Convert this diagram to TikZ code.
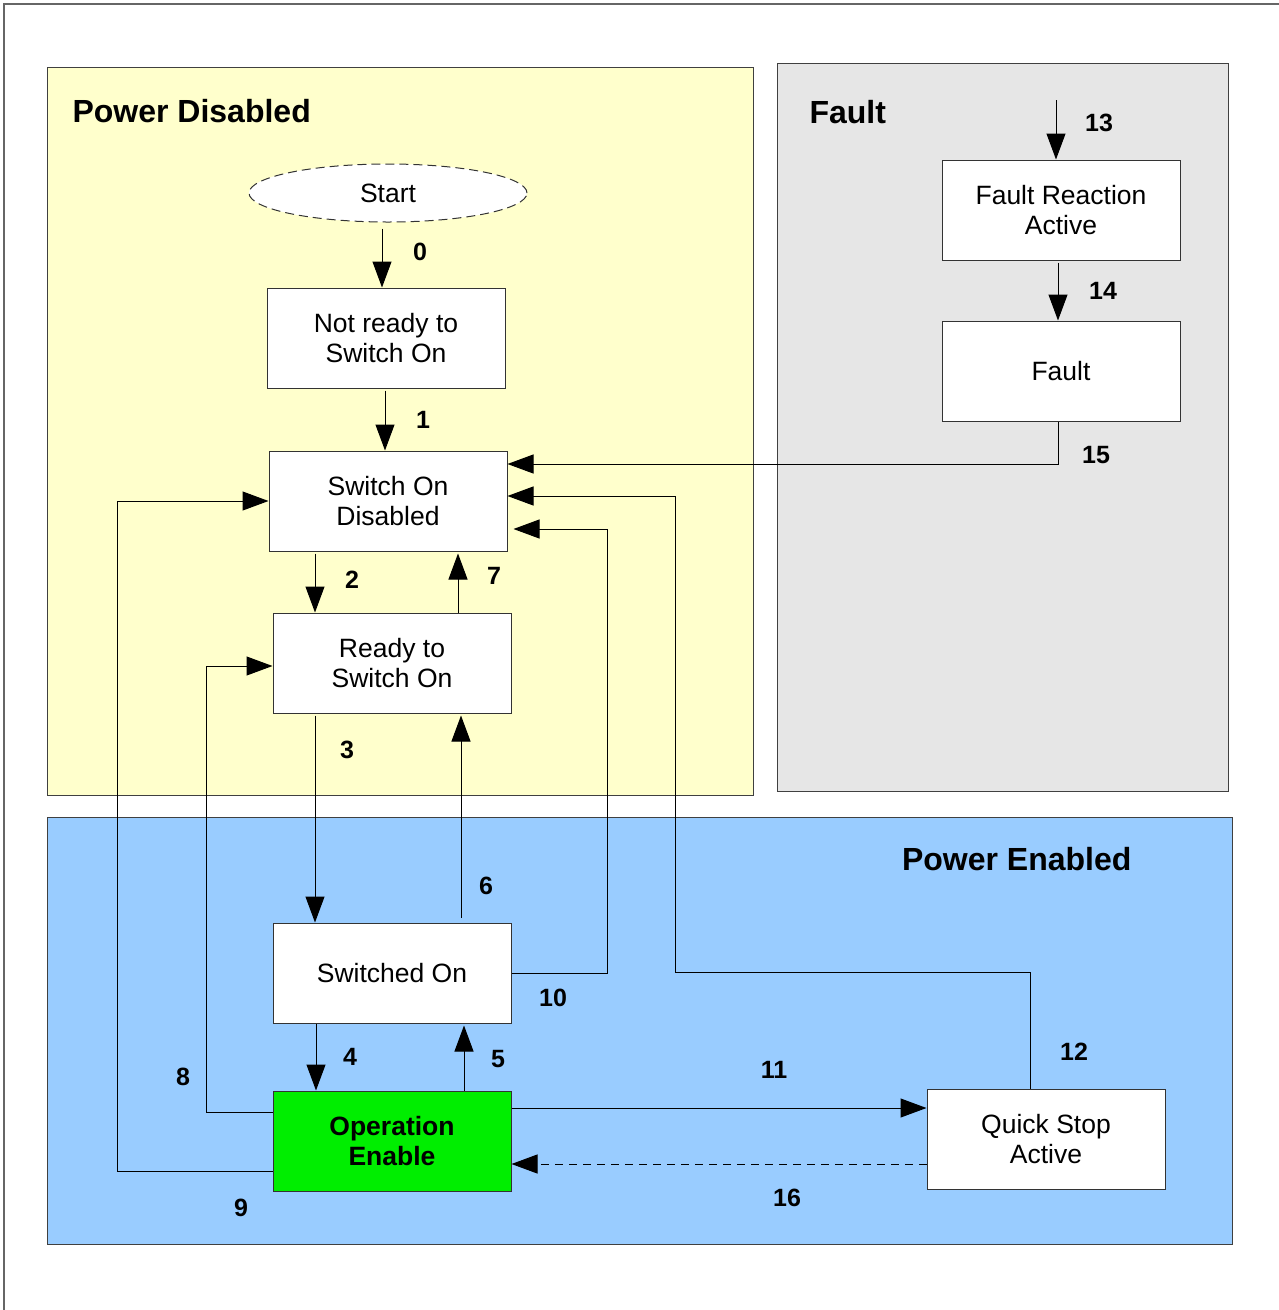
\documentclass[tikz,border=0pt]{standalone}
\usepackage{fontspec}
\setmainfont{Liberation Sans}
\usetikzlibrary{arrows.meta,shapes.geometric}
\definecolor{pdyellow}{HTML}{FFFFCC}
\definecolor{faultgray}{HTML}{E6E6E6}
\definecolor{peblue}{HTML}{99CCFF}
\definecolor{opgreen}{HTML}{00EE00}
\tikzset{
  x=1pt, y=-1pt,
  region/.style={draw=black!75, line width=1pt},
  state/.style={draw=black!80, fill=white, line width=1pt, rectangle,
    minimum width=238pt, minimum height=100pt, align=center,
    font=\fontsize{26.5}{30}\selectfont, inner sep=0pt},
  title/.style={font=\bfseries\fontsize{32}{36}\selectfont, anchor=west},
  num/.style={font=\bfseries\fontsize{25}{28}\selectfont},
  arr/.style={draw=black, line width=1pt, -{Triangle[length=26pt,width=19pt]}},
  longdash/.style={dash pattern=on 8pt off 6pt},
}
\begin{document}
\begin{tikzpicture}
\useasboundingbox (0,0) rectangle (1278,1310);
% outer frame
\draw[black!60, line width=1.2pt] (4,1330) -- (4,4) -- (1300,4);

% regions
\draw[region, fill=pdyellow] (47,67) rectangle (753,795);
\draw[region, fill=faultgray] (777,63) rectangle (1228,791);
\draw[region, fill=peblue] (47,817) rectangle (1232,1244);

\node[title] (tpd) at (69,111) {Power Disabled};
\node[title] (tf) at (806,112) {Fault};
\node[title, anchor=east] (tpe) at (1135,859) {Power Enabled};

% states
\node[draw=black!80, dash pattern=on 9pt off 5pt, line width=1pt, ellipse, fill=white,
  minimum width=278pt, minimum height=58pt, inner sep=0pt,
  font=\fontsize{26.5}{30}\selectfont] (start) at (388,193) {Start};
\node[state] (nr) at (386,338) {Not ready to\\Switch On};
\node[state] (sod) at (388,501) {Switch On\\Disabled};
\node[state] (rso) at (392,663) {Ready to\\Switch On};
\node[state] (so) at (392,973) {Switched On};
\node[state, fill=opgreen, font=\bfseries\fontsize{26.5}{30}\selectfont] (oe) at (392,1141) {Operation\\Enable};
\node[state] (qs) at (1046,1139) {Quick Stop\\Active};
\node[state] (fra) at (1061,210) {Fault Reaction\\Active};
\node[state] (fault) at (1061,371) {Fault};
\coordinate (in13) at (1056,100);

% transitions
\draw[arr] ([xshift=-6pt,yshift=-6pt]start.south) -- ([xshift=-6pt]start.south |- nr.north);
\draw[arr] ([xshift=-1pt,yshift=-2pt]nr.south) -- ([xshift=-1pt]nr.south |- sod.north);
\draw[arr] ([xshift=-73pt,yshift=-2pt]sod.south) -- ([xshift=-73pt]sod.south |- rso.north);
\draw[arr] ([xshift=66pt]rso.north) -- ([xshift=66pt,yshift=-2pt]rso.north |- sod.south);
\draw[arr] ([xshift=-77pt,yshift=-2pt]rso.south) -- ([xshift=-77pt]rso.south |- so.north);
\draw[arr] ([xshift=69pt,yshift=5pt]so.north) -- ([xshift=69pt,yshift=-2pt]so.north |- rso.south);
\draw[arr] ([xshift=-76pt]so.south) -- ([xshift=-76pt]so.south |- oe.north);
\draw[arr] ([xshift=72pt]oe.north) -- ([xshift=72pt,yshift=-2pt]oe.north |- so.south);
\draw[arr] ([yshift=29pt]oe.west) -- ++(-66,0) |- ([yshift=-3pt]rso.west);
\draw[arr] ([yshift=-30pt]oe.west) -- ++(-155,0) |- (sod.west);
\draw[arr] (so.east) -- ++(96,0) |- ([xshift=6pt,yshift=-28pt]sod.east);
\draw[arr] ([yshift=33pt]oe.east) -- ([yshift=33pt]oe.east -| qs.west);
\draw[arr, longdash] ([yshift=-23pt]oe.east -| qs.west) -- ([yshift=-23pt]oe.east);
\draw[arr] ([xshift=-16pt]qs.north) |- (675,972) -- (675,496) -- ([yshift=5pt]sod.east);
\draw[arr] ([xshift=-3pt]fault.south) |- ([yshift=37pt]sod.east);
\draw[arr] (in13) -- (in13 |- fra.north);
\draw[arr] ([xshift=-3pt,yshift=-2pt]fra.south) -- ([xshift=-3pt]fra.south |- fault.north);

% transition numbers
\node[num] (n0) at (420,252) {0};
\node[num] (n1) at (423,420) {1};
\node[num] (n2) at (352,580) {2};
\node[num] (n7) at (494,576) {7};
\node[num] (n3) at (347,750) {3};
\node[num] (n6) at (486,886) {6};
\node[num] (n4) at (350,1057) {4};
\node[num] (n5) at (498,1059) {5};
\node[num] (n8) at (183,1077) {8};
\node[num] (n9) at (241,1208) {9};
\node[num] (n10) at (553,998) {10};
\node[num] (n11) at (774,1070) {11};
\node[num] (n16) at (787,1198) {16};
\node[num] (n12) at (1074,1052) {12};
\node[num] (n13) at (1099,123) {13};
\node[num] (n14) at (1103,291) {14};
\node[num] (n15) at (1096,455) {15};
\end{tikzpicture}
\end{document}
